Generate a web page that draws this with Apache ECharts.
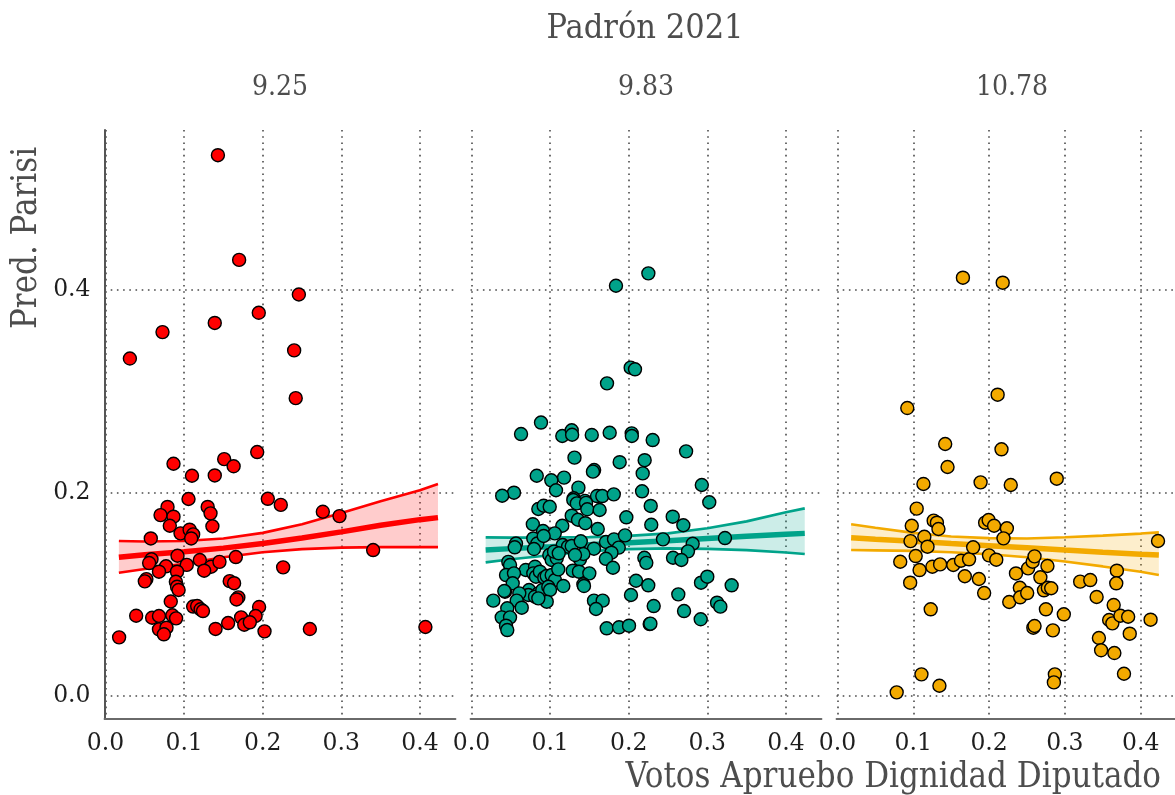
<!DOCTYPE html>
<html>
<head>
<meta charset="utf-8">
<title>Pred. Parisi vs Votos Apruebo Dignidad Diputado</title>
<script src="https://cdn.jsdelivr.net/npm/echarts@6/dist/echarts.min.js"></script>
<style>
  html, body { margin: 0; padding: 0; background: #ffffff; }
  #chart { width: 1175px; height: 795px; }
</style>
</head>
<body>
<div id="chart"></div>
<script>
// Facet levels (Padrón 2021) and axis ticks
const padronLevels = ['9.25', '9.83', '10.78'];
const xTicks = [0, 0.1, 0.2, 0.3, 0.4];
const yTicks = [0, 0.2, 0.4];

// Padrón 9.25 — observed communes
const votos925 = [0.143,0.170,0.246,0.195,0.139,0.0725,0.031,0.240,0.242,0.193,0.0865,0.151,0.163,0.110,0.139,0.1056,0.2065,0.223,0.2765,0.2977,0.0789,0.070,0.0865,0.130,0.1336,0.0818,0.136,0.0954,0.107,0.1115,0.109,0.0576,0.3405,0.0916,0.0585,0.0555,0.077,0.068,0.1034,0.120,0.1344,0.1255,0.145,0.1658,0.226,0.091,0.052,0.050,0.0895,0.091,0.093,0.158,0.1636,0.169,0.1667,0.083,0.039,0.0593,0.068,0.085,0.0898,0.1115,0.1166,0.121,0.124,0.1954,0.191,0.1725,0.1765,0.1836,0.156,0.140,0.068,0.0776,0.0742,0.2023,0.260,0.407,0.0173];
const parisi925 = [0.532,0.429,0.395,0.377,0.367,0.358,0.332,0.340,0.293,0.240,0.2285,0.233,0.226,0.2167,0.217,0.1938,0.194,0.188,0.1813,0.177,0.186,0.178,0.1764,0.186,0.1797,0.1675,0.167,0.160,0.1636,0.159,0.155,0.155,0.1436,0.138,0.1345,0.1308,0.1276,0.1223,0.129,0.1338,0.1272,0.1233,0.132,0.1367,0.1266,0.1223,0.115,0.1128,0.1124,0.1075,0.1043,0.113,0.111,0.097,0.095,0.093,0.079,0.077,0.0787,0.0794,0.0764,0.088,0.0885,0.0853,0.0836,0.0876,0.0787,0.0774,0.0701,0.0725,0.0718,0.066,0.0656,0.0672,0.0607,0.0636,0.0659,0.0679,0.0577];

// Padrón 9.83 — observed communes
const votos983 = [0.225,0.1838,0.2025,0.208,0.1724,0.0884,0.063,0.1155,0.1275,0.128,0.153,0.1758,0.2038,0.204,0.2305,0.273,0.131,0.1885,0.2203,0.156,0.1545,0.2178,0.083,0.1177,0.1015,0.1075,0.136,0.293,0.054,0.039,0.130,0.1444,0.1597,0.1664,0.181,0.217,0.3025,0.1295,0.134,0.1457,0.1473,0.085,0.0918,0.0995,0.163,0.228,0.197,0.256,0.2695,0.2287,0.1275,0.1355,0.1448,0.1155,0.078,0.1606,0.091,0.1059,0.0786,0.0837,0.0795,0.0566,0.055,0.0918,0.116,0.1228,0.1275,0.139,0.1558,0.1711,0.1813,0.1953,0.1873,0.178,0.171,0.180,0.2436,0.2814,0.2754,0.2564,0.267,0.3225,0.2199,0.2224,0.099,0.102,0.1084,0.105,0.111,0.138,0.1423,0.1317,0.0468,0.049,0.069,0.0808,0.0786,0.082,0.087,0.0926,0.0957,0.102,0.1062,0.1104,0.1288,0.1367,0.1499,0.0439,0.054,0.0524,0.0426,0.0732,0.0723,0.085,0.0808,0.0901,0.0977,0.0999,0.0957,0.085,0.1168,0.1423,0.1431,0.0608,0.0575,0.0639,0.0277,0.0417,0.0455,0.0384,0.049,0.0439,0.0455,0.1558,0.1669,0.1584,0.172,0.1877,0.2004,0.2093,0.2249,0.2029,0.2318,0.2267,0.2276,0.2631,0.2704,0.2916,0.292,0.30,0.3124,0.3166,0.331];
const parisi983 = [0.4158,0.4036,0.323,0.3214,0.3076,0.269,0.2577,0.2558,0.2614,0.257,0.2568,0.259,0.2584,0.2558,0.2518,0.2407,0.2345,0.230,0.232,0.2223,0.2207,0.219,0.2167,0.2148,0.2122,0.2024,0.205,0.2076,0.200,0.197,0.1945,0.192,0.1967,0.1967,0.1984,0.2014,0.1906,0.1928,0.1895,0.190,0.1837,0.184,0.1872,0.1862,0.183,0.187,0.1758,0.1764,0.168,0.1685,0.1774,0.1734,0.170,0.1675,0.169,0.1643,0.1623,0.160,0.155,0.150,0.1446,0.150,0.1463,0.1574,0.1485,0.1469,0.1476,0.1522,0.1449,0.1515,0.1541,0.158,0.146,0.141,0.135,0.1262,0.1541,0.1498,0.1423,0.136,0.1338,0.1554,0.136,0.131,0.1387,0.1338,0.1355,0.142,0.1404,0.1345,0.1397,0.1387,0.132,0.1289,0.124,0.1272,0.1207,0.1174,0.1223,0.1164,0.118,0.119,0.1141,0.1246,0.1233,0.1223,0.1207,0.119,0.1207,0.1109,0.1026,0.1043,0.0994,0.101,0.0977,0.1043,0.1075,0.1043,0.0928,0.0961,0.1082,0.1099,0.1082,0.101,0.0938,0.0869,0.0938,0.1033,0.0863,0.0774,0.0774,0.0692,0.0649,0.0938,0.0938,0.0856,0.0666,0.0676,0.0692,0.1134,0.1089,0.0994,0.0885,0.0708,0.0712,0.100,0.0836,0.0755,0.1115,0.1174,0.0918,0.0879,0.1089];

// Padrón 10.78 — observed communes
const votos1078 = [0.1655,0.218,0.2113,0.0921,0.1421,0.2164,0.1452,0.1134,0.1888,0.2286,0.2893,0.1045,0.098,0.1269,0.1312,0.1332,0.1146,0.1188,0.0963,0.1032,0.0828,0.1083,0.0959,0.1252,0.1354,0.123,0.1108,0.1345,0.0781,0.1528,0.163,0.1736,0.168,0.179,0.1866,0.1935,0.1948,0.1994,0.2066,0.1999,0.2095,0.2235,0.219,0.2266,0.2355,0.2406,0.241,0.2503,0.2515,0.2575,0.26,0.2677,0.2724,0.2775,0.282,0.277,0.275,0.2584,0.26,0.2842,0.2868,0.2855,0.2986,0.3202,0.3335,0.3419,0.3686,0.3678,0.3644,0.3584,0.3627,0.3733,0.3835,0.3856,0.3449,0.3478,0.3653,0.378,0.4131,0.4229];
const parisi1078 = [0.4115,0.4066,0.2964,0.2833,0.2479,0.2427,0.2253,0.2086,0.2102,0.2076,0.2138,0.1843,0.1675,0.1725,0.1705,0.1643,0.1567,0.1469,0.1524,0.1377,0.1321,0.1239,0.1115,0.1272,0.1295,0.0853,0.0213,0.0101,0.0036,0.1289,0.1331,0.1345,0.1178,0.1463,0.1151,0.1013,0.1705,0.1731,0.1675,0.1384,0.1341,0.165,0.1551,0.0925,0.1206,0.1065,0.0971,0.1013,0.1256,0.1321,0.1374,0.1168,0.104,0.1065,0.106,0.1279,0.0853,0.0672,0.0689,0.0646,0.0213,0.0134,0.0804,0.1125,0.1141,0.0974,0.1233,0.1109,0.0895,0.0748,0.0715,0.079,0.078,0.0613,0.0571,0.045,0.0423,0.0219,0.0751,0.1525];

// Fitted curves with confidence bands, one set per facet
const fitX925 = [0.017,0.05,0.1,0.15,0.2,0.25,0.3,0.35,0.4,0.423];
const fitMid925 = [0.1365,0.139,0.142,0.1455,0.150,0.1555,0.1615,0.168,0.1735,0.1755];
const fitLow925 = [0.1213,0.125,0.130,0.1365,0.1415,0.1445,0.146,0.1465,0.1465,0.1465];
const fitHigh925 = [0.1525,0.152,0.1525,0.155,0.1605,0.169,0.180,0.1915,0.2025,0.2085];

const fitX983 = [0.018,0.05,0.1,0.15,0.2,0.25,0.3,0.35,0.4,0.424];
const fitMid983 = [0.1436,0.145,0.1468,0.1488,0.1508,0.1528,0.155,0.1572,0.1592,0.160];
const fitLow983 = [0.1315,0.1345,0.1385,0.1425,0.1445,0.1452,0.1448,0.1435,0.1412,0.1397];
const fitHigh983 = [0.1561,0.1558,0.1558,0.1563,0.1575,0.160,0.165,0.1718,0.1808,0.1846];

const fitX1078 = [0.018,0.05,0.1,0.15,0.2,0.25,0.3,0.35,0.4,0.424];
const fitMid1078 = [0.1557,0.1543,0.1522,0.150,0.1479,0.1458,0.1436,0.1415,0.1395,0.1387];
const fitLow1078 = [0.1436,0.1433,0.1428,0.1415,0.1395,0.1365,0.1323,0.1275,0.1222,0.119];
const fitHigh1078 = [0.1689,0.1655,0.1605,0.157,0.1553,0.155,0.1562,0.1578,0.1598,0.161];

const panelColors = ['#FF0000', '#00A38A', '#F3AA00'];
const bandColors = ['rgba(255,0,0,0.2)', 'rgba(0,163,138,0.2)', 'rgba(243,170,0,0.2)'];

const panels = [
  { x: votos925, y: parisi925, fx: fitX925, mid: fitMid925, low: fitLow925, high: fitHigh925 },
  { x: votos983, y: parisi983, fx: fitX983, mid: fitMid983, low: fitLow983, high: fitHigh983 },
  { x: votos1078, y: parisi1078, fx: fitX1078, mid: fitMid1078, low: fitLow1078, high: fitHigh1078 }
];

// Layout of the three facets
const panelLefts = [104.5, 470.5, 836.5];
const panelWidth = 351;
const panelTop = 130;
const panelHeight = 589;

const titleFont = "'DejaVu Serif Condensed', 'Liberation Serif', serif";
const tickFont = "'DejaVu Serif', serif";
const gridDots = { color: '#4a4a4a', width: 1.6, type: [1.6, 4.6] };

const zip = (a, b) => a.map((v, i) => [v, b[i]]);

const grids = [], xAxes = [], yAxes = [], series = [];
panels.forEach((p, i) => {
  grids.push({ left: panelLefts[i], top: panelTop, width: panelWidth, height: panelHeight });
  xAxes.push({
    gridIndex: i, type: 'value', min: -0.0013, max: 0.4453,
    axisLine: { show: true, onZero: false, lineStyle: { color: '#6a6a6a', width: 1.8 } },
    axisTick: { show: false, customValues: xTicks },
    axisLabel: { customValues: xTicks, formatter: v => v.toFixed(1), fontFamily: tickFont, fontSize: 23.5, color: '#1e1e1e', margin: 13 },
    splitLine: { show: true, lineStyle: gridDots }
  });
  yAxes.push({
    gridIndex: i, type: 'value', min: -0.0226, max: 0.5568,
    axisLine: { show: i === 0, onZero: false, lineStyle: { color: '#555555', width: 2 } },
    axisTick: { show: false, customValues: yTicks },
    axisLabel: { show: i === 0, customValues: yTicks, formatter: v => v.toFixed(1), fontFamily: tickFont, fontSize: 23.5, color: '#1e1e1e', margin: 14 },
    splitLine: { show: true, lineStyle: gridDots }
  });

  // confidence band polygon: upper bound forward, lower bound back
  series.push({
    type: 'custom', xAxisIndex: i, yAxisIndex: i, z: 1, silent: true,
    data: [0],
    renderItem: (params, api) => {
      const upper = p.fx.map((x, k) => api.coord([x, p.high[k]]));
      const lower = p.fx.map((x, k) => api.coord([x, p.low[k]])).reverse();
      return { type: 'polygon', shape: { points: upper.concat(lower) }, style: { fill: bandColors[i] } };
    }
  });
  const common = { xAxisIndex: i, yAxisIndex: i, symbol: 'none', smooth: false, silent: true, z: 2 };
  series.push(Object.assign({}, common, { type: 'line', data: zip(p.fx, p.low), lineStyle: { color: panelColors[i], width: 2.6 } }));
  series.push(Object.assign({}, common, { type: 'line', data: zip(p.fx, p.high), lineStyle: { color: panelColors[i], width: 2.6 } }));
  series.push(Object.assign({}, common, { type: 'line', data: zip(p.fx, p.mid), lineStyle: { color: panelColors[i], width: 5.5 } }));
  series.push({
    type: 'scatter', xAxisIndex: i, yAxisIndex: i, z: 3,
    data: zip(p.x, p.y), symbol: 'circle', symbolSize: 13,
    itemStyle: { color: panelColors[i], borderColor: '#000000', borderWidth: 1.4, opacity: 1 }
  });
});

const texts = [
  { type: 'text', style: { text: 'Padrón 2021', x: 645, y: 29, align: 'center', verticalAlign: 'middle', font: '34px ' + titleFont, fill: '#4d4d4d' } },
  { type: 'text', rotation: Math.PI / 2, x: 27, y: 238, style: { text: 'Pred. Parisi', x: 0, y: 0, align: 'center', verticalAlign: 'middle', font: '34.5px ' + titleFont, fill: '#4d4d4d' } },
  { type: 'text', style: { text: 'Votos Apruebo Dignidad Diputado', x: 1161, y: 778, align: 'right', verticalAlign: 'middle', font: '34.5px ' + titleFont, fill: '#4d4d4d' } }
];
padronLevels.forEach((lab, i) => {
  texts.push({ type: 'text', style: { text: lab, x: panelLefts[i] + panelWidth / 2, y: 88, align: 'center', verticalAlign: 'middle', font: '28px ' + titleFont, fill: '#4d4d4d' } });
});

const chart = echarts.init(document.getElementById('chart'), null, { renderer: 'canvas' });
chart.setOption({
  animation: false,
  backgroundColor: '#ffffff',
  grid: grids,
  xAxis: xAxes,
  yAxis: yAxes,
  series: series,
  graphic: texts
});
</script>
</body>
</html>
